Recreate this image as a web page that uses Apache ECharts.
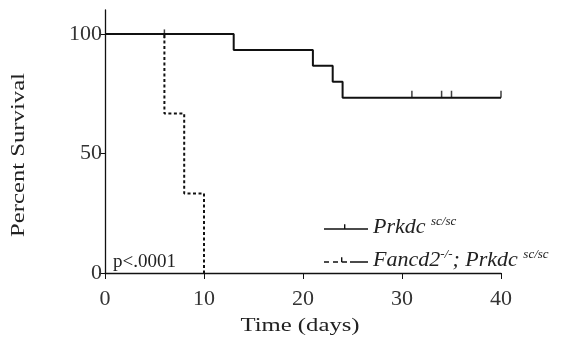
<!DOCTYPE html>
<html>
<head>
<meta charset="utf-8">
<script src="https://cdn.jsdelivr.net/npm/echarts@6/dist/echarts.min.js"></script>
<style>
  html, body { margin: 0; padding: 0; background: #fff; }
  #chart { width: 563px; height: 339px; }
</style>
</head>
<body>
<div id="chart"></div>
<script>
// Kaplan-Meier style survival curves
const prkdcDays = [0, 13, 21, 23, 24, 40];
const prkdcSurvival = [100, 93.3, 86.7, 80, 73.3, 73.3];
const prkdcCensorDays = [31, 34, 35, 40];

const fancdDays = [0, 6, 8, 10];
const fancdSurvival = [100, 66.7, 33.3, 0];
const fancdCensorDays = [6];

const xTicks = [0, 10, 20, 30, 40];
const yTicks = [0, 50, 100];

const font = "Liberation Serif";

const pair = (xs, ys) => xs.map((x, i) => [x, ys[i]]);
// value of a step curve at a given day
const valueAt = (xs, ys, d) => {
    let v = ys[0];
    for (let i = 0; i < xs.length; i++) if (xs[i] <= d) v = ys[i];
    return v;
};

const chart = echarts.init(document.getElementById("chart"));

const option = {
    backgroundColor: "#fff",
    animation: false,
    grid: { left: 105, right: 62, top: 10, bottom: 66 },
    xAxis: {
        type: "value",
        min: 0,
        max: 40,
        interval: 10,
        axisLine: { onZero: false, lineStyle: { color: "#111", width: 1.3 } },
        axisTick: { customValues: xTicks, length: 6, lineStyle: { color: "#111" } },
        axisLabel: { customValues: xTicks, margin: 15, fontFamily: font, fontSize: 22, color: "#333" },
        splitLine: { show: false },
    },
    yAxis: {
        type: "value",
        min: 0,
        max: 110,
        axisLine: { show: true, lineStyle: { color: "#111", width: 1.3 } },
        axisTick: { show: true, customValues: yTicks, length: 6, lineStyle: { color: "#111" } },
        axisLabel: { customValues: yTicks, margin: 3, fontFamily: font, fontSize: 22, color: "#333" },
        splitLine: { show: false },
    },
    legend: {
        orient: "vertical",
        left: 319,
        top: 210,
        itemGap: 10,
        itemWidth: 44,
        itemHeight: 8,
        textStyle: {
            fontFamily: font,
            fontSize: 22,
            color: "#222",
            rich: {
                i: { fontFamily: font, fontSize: 22, fontStyle: "italic", color: "#222" },
                s: { fontFamily: font, fontSize: 13, fontStyle: "italic", color: "#222", padding: [0, 0, 11, 0] },
            },
        },
        formatter: (name) =>
            name === "Prkdc"
                ? "{i|Prkdc }{s|sc/sc}"
                : "{i|Fancd2}{s|-/-}{i|; Prkdc }{s|sc/sc}",
        data: [
            { name: "Prkdc", icon: "path://M0,4h44v1.4h-44z M20,0h1.4v5h-1.4z", itemStyle: { color: "#111" } },
            {
                name: "Fancd2",
                icon: "path://M0,4h5v1.6h-5z M9,4h5v1.6h-5z M17,0h1.4v5h-1.4z M18,4h5v1.6h-5z M26,4h18v1.6h-18z",
                itemStyle: { color: "#111" },
            },
        ],
    },
    graphic: [
        {
            type: "text",
            left: 113,
            top: 253,
            style: { text: "p<.0001", fontFamily: font, fontSize: 19, fill: "#222" },
        },
        {
            type: "text",
            x: 300,
            y: 326,
            scaleX: 1.3,
            style: {
                text: "Time (days)",
                fontFamily: font,
                fontSize: 19,
                fill: "#222",
                align: "center",
                verticalAlign: "middle",
            },
        },
        {
            type: "text",
            x: 19,
            y: 155,
            rotation: Math.PI / 2,
            scaleX: 1.3,
            style: {
                text: "Percent Survival",
                fontFamily: font,
                fontSize: 19,
                fill: "#222",
                align: "center",
                verticalAlign: "middle",
            },
        },
    ],
    series: [
        {
            name: "Prkdc",
            type: "line",
            step: "end",
            symbol: "none",
            data: pair(prkdcDays, prkdcSurvival),
            lineStyle: { color: "#111", width: 2 },
            z: 3,
        },
        {
            name: "Fancd2",
            type: "line",
            step: "end",
            symbol: "none",
            data: pair(fancdDays, fancdSurvival),
            lineStyle: { color: "#111", width: 2, type: [3, 2.5] },
            z: 3,
        },
        {
            name: "PrkdcCensor",
            type: "scatter",
            symbol: "rect",
            symbolSize: [1.5, 7],
            symbolOffset: [0, -3.5],
            itemStyle: { color: "#111" },
            data: prkdcCensorDays.map((d) => [d, valueAt(prkdcDays, prkdcSurvival, d)]),
            z: 4,
        },
        {
            name: "FancdCensor",
            type: "scatter",
            symbol: "rect",
            symbolSize: [1.5, 9],
            itemStyle: { color: "#111" },
            data: fancdCensorDays.map((d) => [d, valueAt(fancdDays, fancdSurvival, d - 0.01)]),
            z: 4,
        },
    ],
};

chart.setOption(option);
</script>
</body>
</html>
